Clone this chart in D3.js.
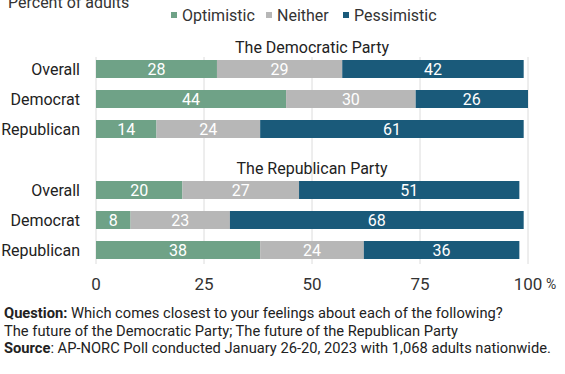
<!DOCTYPE html>
<html>
<head>
<meta charset="utf-8">
<script src="https://cdn.jsdelivr.net/npm/d3@7"></script>
<style>
  body { margin: 0; background: #fff; }
  svg { font-family: Roboto, "Noto Sans", sans-serif; }
</style>
</head>
<body>
<div id="chart"></div>
<script>
"use strict";

const width = 565;
const height = 374;

// data (percent of adults)
const series = ["Optimistic", "Neither", "Pessimistic"];
const colors = ["#6fa287", "#b7b7b7", "#1a5a7a"];
const panels = ["The Democratic Party", "The Republican Party"];
const groups = ["Overall", "Democrat", "Republican"];
const demParty = [[28, 29, 42], [44, 30, 26], [14, 24, 61]];
const repParty = [[20, 27, 51], [8, 23, 68], [38, 24, 36]];
const ticks = [0, 25, 50, 75, 100];

const panelData = [demParty, repParty];
const panelRanges = [[54, 144], [175, 265]];
const panelTitleY = [47, 168];

const svg = d3.select("#chart").append("svg")
    .attr("width", width)
    .attr("height", height);

const x = d3.scaleLinear().domain([0, 100]).range([96, 528]);

// grid lines
svg.append("g").selectAll("line")
    .data(ticks)
    .join("line")
    .attr("x1", d => x(d)).attr("x2", d => x(d))
    .attr("y1", 57).attr("y2", 264)
    .attr("stroke", "#dcdcdc")
    .attr("stroke-width", 1);

// axis labels
const axis = svg.append("g").attr("font-size", 17).attr("fill", "#333");
axis.selectAll("text")
    .data(ticks)
    .join("text")
    .attr("x", d => x(d))
    .attr("y", 290)
    .attr("text-anchor", "middle")
    .text(d => d);
axis.append("text")
    .attr("x", x(100) + 18)
    .attr("y", 289)
    .attr("font-size", 14)
    .text("%");

panels.forEach((title, p) => {
    const y = d3.scaleBand().domain(groups).range(panelRanges[p]).paddingInner(0.4).paddingOuter(0.2);
    const g = svg.append("g");

    g.append("text")
        .attr("x", (x(0) + x(100)) / 2)
        .attr("y", panelTitleY[p] + 6)
        .attr("text-anchor", "middle")
        .attr("font-size", 16)
        .attr("fill", "#222")
        .text(title);

    // stack each row
    const rows = panelData[p].map((vals, i) => {
        const r = { group: groups[i] };
        series.forEach((s, j) => r[s] = vals[j]);
        return r;
    });
    const stacked = d3.stack().keys(series)(rows);

    stacked.forEach((layer, j) => {
        const lg = g.append("g");
        lg.selectAll("rect")
            .data(layer)
            .join("rect")
            .attr("x", d => x(d[0]))
            .attr("width", d => x(d[1]) - x(d[0]))
            .attr("y", d => y(d.data.group))
            .attr("height", y.bandwidth())
            .attr("fill", colors[j]);
        lg.selectAll("text")
            .data(layer)
            .join("text")
            .attr("x", d => (x(d[0]) + x(d[1])) / 2)
            .attr("y", d => y(d.data.group) + y.bandwidth() / 2 + 5.5)
            .attr("text-anchor", "middle")
            .attr("font-size", 16)
            .attr("fill", "#fff")
            .text(d => d[1] - d[0]);
    });

    // row labels
    g.selectAll(".cat")
        .data(groups)
        .join("text")
        .attr("class", "cat")
        .attr("x", 80)
        .attr("y", d => y(d) + y.bandwidth() / 2 + 5.5)
        .attr("text-anchor", "end")
        .attr("font-size", 16)
        .attr("fill", "#222")
        .text(d => d);
});

// subtitle, cut off at the top like the original
svg.append("text")
    .attr("x", 8).attr("y", 8)
    .attr("font-size", 16)
    .attr("fill", "#333")
    .text("Percent of adults");

// legend
const legendX = [171, 266, 343];
const legend = svg.append("g");
series.forEach((s, i) => {
    legend.append("rect")
        .attr("x", legendX[i]).attr("y", 12)
        .attr("width", 6).attr("height", 6)
        .attr("fill", colors[i]);
    legend.append("text")
        .attr("x", legendX[i] + 11).attr("y", 21)
        .attr("font-size", 16)
        .attr("fill", "#333")
        .text(s);
});

// footer notes
const notes = svg.append("g").attr("font-size", 14.7).attr("fill", "#222");
const n1 = notes.append("text").attr("x", 4).attr("y", 318);
n1.append("tspan").attr("font-weight", "bold").text("Question:");
n1.append("tspan").text(" Which comes closest to your feelings about each of the following?");
notes.append("text").attr("x", 4).attr("y", 335.5)
    .text("The future of the Democratic Party; The future of the Republican Party");
const n3 = notes.append("text").attr("x", 4).attr("y", 353);
n3.append("tspan").attr("font-weight", "bold").text("Source");
n3.append("tspan").text(": AP-NORC Poll conducted January 26-20, 2023 with 1,068 adults nationwide.");
</script>
</body>
</html>
